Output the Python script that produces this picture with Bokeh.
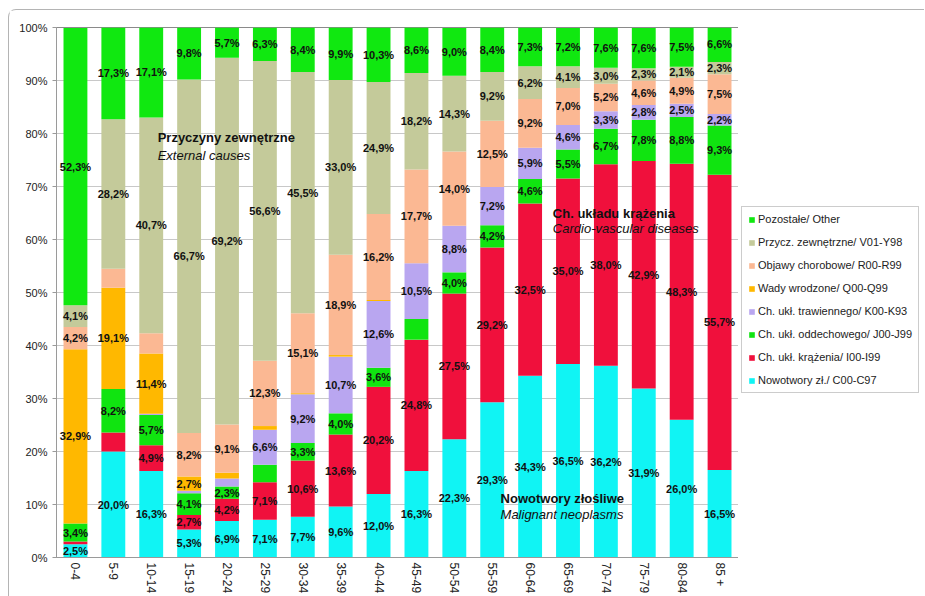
from bokeh.plotting import figure
from bokeh.layouts import row
from bokeh.models import (FactorRange, Range1d, Legend, LegendItem, ColumnDataSource,
                          Label, FixedTicker)
from bokeh.core.properties import value
from bokeh.embed import file_html
from bokeh.resources import INLINE

groups = ["0-4", "5-9", "10-14", "15-19", "20-24", "25-29", "30-34", "35-39", "40-44",
          "45-49", "50-54", "55-59", "60-64", "65-69", "70-74", "75-79", "80-84", "85 +"]

nowotwory = [2.5, 20.0, 16.3, 5.3, 6.9, 7.1, 7.7, 9.6, 12.0, 16.3, 22.3, 29.3, 34.3, 36.5, 36.2, 31.9, 26.0, 16.5]
krazenie = [0.5, 3.6, 4.9, 2.7, 4.2, 7.1, 10.6, 13.6, 20.2, 24.8, 27.5, 29.2, 32.5, 35.0, 38.0, 42.9, 48.3, 55.7]
oddech = [3.4, 8.2, 5.7, 4.1, 2.3, 3.3, 3.3, 4.0, 3.6, 3.9, 4.0, 4.2, 4.6, 5.5, 6.7, 7.8, 8.8, 9.3]
trawienne = [0.0, 0.0, 0.2, 0.5, 1.5, 6.6, 9.2, 10.7, 12.6, 10.5, 8.8, 7.2, 5.9, 4.6, 3.3, 2.8, 2.5, 2.2]
wady = [32.9, 19.1, 11.4, 2.7, 1.1, 0.7, 0.2, 0.3, 0.2, 0.0, 0.0, 0.0, 0.0, 0.0, 0.0, 0.0, 0.0, 0.0]
objawy = [4.2, 3.6, 3.8, 8.2, 9.1, 12.3, 15.1, 18.9, 16.2, 17.7, 14.0, 12.5, 9.2, 7.0, 5.2, 4.6, 4.9, 7.5]
zewnetrzne = [4.1, 28.2, 40.7, 66.7, 69.2, 56.6, 45.5, 33.0, 24.9, 18.2, 14.3, 9.2, 6.2, 4.1, 3.0, 2.3, 2.1, 2.3]
pozostale = [52.3, 17.3, 17.1, 9.8, 5.7, 6.3, 8.4, 9.9, 10.3, 8.6, 9.0, 8.4, 7.3, 7.2, 7.6, 7.6, 7.5, 6.6]

series_keys = ["nowotwory", "krazenie", "oddech", "trawienne", "wady", "objawy", "zewnetrzne", "pozostale"]
series_values = [nowotwory, krazenie, oddech, trawienne, wady, objawy, zewnetrzne, pozostale]
series_names = ["Nowotwory zł./ C00-C97", "Ch. ukł. krążenia/ I00-I99", "Ch. ukł. oddechowego/ J00-J99",
                "Ch. ukł. trawiennego/ K00-K93", "Wady wrodzone/ Q00-Q99", "Objawy chorobowe/ R00-R99",
                "Przycz. zewnętrzne/ V01-Y98", "Pozostałe/ Other"]
colors = ["#10F4F4", "#F0103C", "#10E410", "#B9A6F0", "#FFB800", "#FBB893", "#C4CA9A", "#10E810"]

# segments whose values are not labelled in the original
hidden_labels = [("krazenie", "5-9"), ("objawy", "5-9"), ("objawy", "10-14"),
                 ("oddech", "25-29"), ("oddech", "45-49")]
min_labelled = 2.0

y_ticks = list(range(0, 101, 10))

data = {"groups": groups}
for k, v in zip(series_keys, series_values):
    data[k] = v
source = ColumnDataSource(data)

BORDER = "1px solid #b4b4b4"

p = figure(x_range=FactorRange(*groups, range_padding=0), y_range=Range1d(0, 100),
           width=730, height=587, output_backend="svg", toolbar_location=None,
           min_border_left=47, min_border_top=17, min_border_bottom=40, min_border_right=1)
p.margin = (9, 0, 0, 8)
p.styles = {"border-left": BORDER, "border-top": BORDER, "border-top-left-radius": "8px"}

renderers = p.vbar_stack(series_keys, x="groups", width=0.63, source=source,
                         fill_color=colors, line_color=None)

# value labels
lx, ly, lt = [], [], []
for i, g in enumerate(groups):
    base = 0.0
    for k, v in zip(series_keys, series_values):
        val = v[i]
        if val >= min_labelled and (k, g) not in hidden_labels:
            lx.append(g)
            ly.append(base + val / 2.0)
            lt.append(("%.1f" % val).replace(".", ",") + "%")
        base += val
p.text(x=lx, y=ly, text=lt, text_align="center", text_baseline="middle",
       text_font=value("Liberation Sans"), text_font_style="bold", text_font_size="11px",
       text_color="#111111")

# axes
p.yaxis.ticker = FixedTicker(ticks=y_ticks)
p.yaxis.major_label_overrides = {t: "%d%%" % t for t in y_ticks}
p.yaxis.major_label_text_font = "Liberation Sans"
p.yaxis.major_label_text_font_size = "11px"
p.yaxis.major_label_text_color = "#222222"
p.yaxis.axis_line_color = "#9a9a9a"
p.yaxis.major_tick_line_color = "#9a9a9a"
p.yaxis.major_tick_out = 4
p.yaxis.major_tick_in = 0
p.yaxis.minor_tick_line_color = None
p.yaxis.major_label_standoff = 5

p.xaxis.major_label_orientation = "vertical"
p.xaxis.major_label_text_font = "Liberation Sans"
p.xaxis.major_label_text_font_size = "12px"
p.xaxis.major_label_text_color = "#222222"
p.xaxis.axis_line_color = "#9a9a9a"
p.xaxis.major_tick_line_color = None
p.xaxis.major_tick_out = 0
p.xaxis.major_label_standoff = 5

p.xgrid.grid_line_color = None
p.ygrid.grid_line_color = "#c8c8c8"
p.outline_line_color = "#8a8a8a"

# annotations
def add_label(x, y, txt, style):
    p.add_layout(Label(x=x, y=y, text=txt, text_font="Liberation Sans", text_font_size="13px",
                       text_font_style=style, text_color="#111111", text_baseline="middle"))

add_label(2.67, 79.2, "Przyczyny zewnętrzne", "bold")
add_label(2.67, 75.9, "External causes", "italic")
add_label(13.1, 65.0, "Ch. układu krążenia", "bold")
add_label(13.1, 62.1, "Cardio-vascular diseases", "italic")
add_label(11.72, 11.2, "Nowotwory złośliwe", "bold")
add_label(11.72, 8.1, "Malignant neoplasms", "italic")

# legend panel to the right of the chart
p2 = figure(width=186, height=587, output_backend="svg", toolbar_location=None,
            x_range=Range1d(0, 1), y_range=Range1d(0, 1),
            x_axis_location=None, y_axis_location=None,
            min_border_left=0, min_border_right=0, min_border_top=0, min_border_bottom=0)
p2.margin = (9, 0, 0, 0)
p2.styles = {"border-top": BORDER}
p2.grid.grid_line_color = None
p2.outline_line_color = None
nan = float("nan")
legend_rs = [p2.vbar(x=[nan], top=[nan], width=1, fill_color=c, line_color=None) for c in colors]
items = [LegendItem(label=n, renderers=[r]) for n, r in zip(series_names, legend_rs)][::-1]
legend = Legend(items=items, location=(3, 164), glyph_width=7, glyph_height=7,
                label_text_font="Liberation Sans", label_text_font_size="11px",
                label_text_color="#222222", label_height=12, spacing=11, padding=6,
                label_standoff=3, border_line_color="#999999", margin=0)
p2.add_layout(legend)

layout = row(p, p2, spacing=0)
open("out.html", "w").write(file_html(layout, INLINE))
